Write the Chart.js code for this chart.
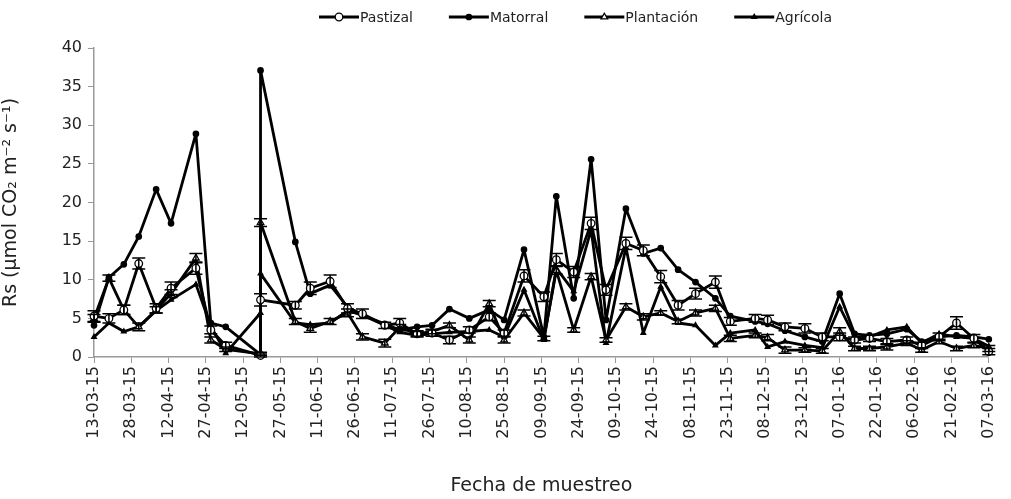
<!DOCTYPE html>
<html>
<head>
<meta charset="utf-8">
<script src="https://cdn.jsdelivr.net/npm/chart.js@4/dist/chart.umd.min.js"></script>
<style>
  body { margin: 0; background: #fff; }
  #caja { width: 1011px; height: 499px; position: relative; }
</style>
</head>
<body>
<div id="caja"><canvas id="miGrafica"></canvas></div>
<script>
// fechas de muestreo (dd-mm-aa); el 19-05 tiene dos mediciones
const fechas = ["13-03-15","19-03-15","25-03-15","31-03-15","07-04-15","13-04-15","23-04-15","29-04-15","05-05-15","19-05-15",
  "19-05-15","02-06-15","08-06-15","16-06-15","23-06-15","29-06-15","08-07-15","14-07-15","21-07-15","27-07-15",
  "03-08-15","11-08-15","19-08-15","25-08-15","02-09-15","10-09-15","15-09-15","22-09-15","29-09-15","05-10-15",
  "13-10-15","20-10-15","27-10-15","03-11-15","10-11-15","18-11-15","24-11-15","04-12-15","09-12-15","16-12-15",
  "24-12-15","31-12-15","07-01-16","13-01-16","19-01-16","26-01-16","03-02-16","09-02-16","16-02-16","23-02-16",
  "01-03-16","07-03-16"]

const pastizal = [5.3,5.0,6.1,12.1,6.3,8.9,11.5,3.5,1.5,0.2, 7.4,6.7,8.9,9.8,6.3,5.6,4.1,4.4,3.0,3.1,
  2.2,3.5,5.2,3.1,10.5,7.8,12.6,11.0,17.3,8.7, 14.7,13.8,10.4,6.7,8.2,9.7,4.6,5.0,4.8,3.9,
  3.7,2.6,2.6,2.2,2.4,2.0,2.2,1.5,2.6,4.4, 2.4,0.7]
const pastizalErr = [0.7,0.6,0.6,0.7,0.6,0.8,0.8,0.5,0.4,0.2, 0.8,0.5,0.8,0.8,0.6,0.6,0.4,0.6,0.4,0.4,
  0.5,0.4,0.5,0.4,0.8,0.6,0.8,0.7,0.8,0.7, 0.8,0.7,0.8,0.6,0.7,0.8,0.5,0.5,0.6,0.5,
  0.6,0.5,0.5,0.4,0.4,0.4,0.4,0.4,0.5,0.8, 0.5,0.4]

const matorral = [4.1,10.3,12.0,15.6,21.7,17.3,28.9,4.4,3.9,0.3, 37.1,14.9,8.2,9.3,6.5,5.4,4.3,3.5,3.9,4.1,
  6.2,5.0,6.1,4.8,13.9,2.6,20.8,7.6,25.6,4.8, 19.2,13.4,14.1,11.3,9.7,7.6,5.3,4.6,4.3,3.4,
  2.6,2.0,8.2,3.0,2.8,3.0,3.6,2.0,2.6,2.8, 2.6,2.3]

const plantacion = [5.0,10.2,6.1,3.9,6.1,8.2,12.8,2.2,1.0,0.4, 17.4,4.6,3.7,4.6,5.7,2.6,1.8,3.8,3.0,3.3,
  4.1,2.2,6.9,2.2,5.7,2.4,11.2,3.5,10.4,2.2, 6.5,5.2,5.7,4.6,5.7,6.3,2.4,2.8,2.5,0.9,
  0.9,0.8,3.3,1.1,1.1,1.3,1.8,0.9,2.0,1.1, 1.5,1.1]
const plantacionErr = [0.5,0.4,0.6,0.5,0.4,0.5,0.6,0.4,0.3,0.2, 0.5,0.4,0.5,0.4,0.5,0.4,0.5,0.4,0.3,0.3,
  0.3,0.4,0.4,0.4,0.4,0.3,0.5,0.3,0.4,0.3, 0.4,0.4,0.3,0.3,0.4,0.4,0.4,0.3,0.4,0.4,
  0.3,0.3,0.5,0.3,0.3,0.4,0.3,0.3,0.3,0.3, 0.3,0.4]

const agricola = [2.6,4.4,3.3,3.9,6.0,7.4,9.4,4.0,0.5,5.7, 10.8,4.4,4.2,4.4,6.0,5.4,4.1,3.2,2.8,3.0,
  3.2,3.3,3.5,2.6,8.7,2.2,11.5,8.5,16.5,1.8, 14.2,3.1,9.1,4.4,4.1,1.5,3.1,3.5,1.3,2.0,
  1.5,1.2,6.5,2.6,2.6,3.5,3.9,1.8,3.0,2.6, 2.4,1.4]

const inicio = Date.UTC(2015, 2, 13)

function dias(f) {
  const p = f.split("-").map(Number)
  return (Date.UTC(2000 + p[2], p[1] - 1, p[0]) - inicio) / 86400000
}

function fechaTexto(d) {
  const t = new Date(inicio + d * 86400000)
  const dd = String(t.getUTCDate()).padStart(2, "0")
  const mm = String(t.getUTCMonth() + 1).padStart(2, "0")
  const aa = String(t.getUTCFullYear()).substr(2, 2)
  return dd + "-" + mm + "-" + aa
}

function puntos(vals) {
  return vals.map((v, i) => ({ x: dias(fechas[i]), y: v }))
}

function serie(nombre, vals, estilo, relleno, radio, err) {
  return {
    label: nombre,
    data: puntos(vals),
    errores: err,
    borderColor: "#000",
    borderWidth: 2.8,
    borderJoinStyle: "round",
    pointStyle: estilo,
    pointRadius: radio,
    pointBorderWidth: 1.3,
    pointBackgroundColor: relleno,
    pointBorderColor: "#000",
    tension: 0,
    clip: false
  }
}

// barras de error
const barras = {
  id: "barras",
  afterDatasetsDraw(chart) {
    const ctx = chart.ctx
    const ys = chart.scales.y
    chart.data.datasets.forEach((ds, i) => {
      if (!ds.errores) return
      const meta = chart.getDatasetMeta(i)
      ctx.save()
      ctx.strokeStyle = "#000"
      ctx.lineWidth = 1.5
      meta.data.forEach((p, j) => {
        const v = ds.data[j].y, e = ds.errores[j]
        const y1 = ys.getPixelForValue(v + e)
        const y2 = ys.getPixelForValue(Math.max(v - e, 0))
        ctx.beginPath()
        ctx.moveTo(p.x, y1); ctx.lineTo(p.x, y2)
        ctx.moveTo(p.x - 6.5, y1); ctx.lineTo(p.x + 6.5, y1)
        ctx.moveTo(p.x - 6.5, y2); ctx.lineTo(p.x + 6.5, y2)
        ctx.stroke()
      })
      ctx.restore()
    })
  }
}

// leyenda con linea y marcador
const leyenda = {
  id: "leyenda",
  afterDraw(chart) {
    const ctx = chart.ctx
    let x = 319
    const y = 17
    ctx.save()
    ctx.font = "14px 'DejaVu Sans'"
    ctx.textBaseline = "middle"
    chart.data.datasets.forEach(ds => {
      ctx.strokeStyle = "#000"
      ctx.lineWidth = 2.8
      ctx.beginPath(); ctx.moveTo(x, y); ctx.lineTo(x + 40, y); ctx.stroke()
      ctx.fillStyle = ds.pointBackgroundColor
      ctx.lineWidth = 1.3
      Chart.helpers.drawPoint(ctx, { pointStyle: ds.pointStyle, radius: ds.pointRadius, borderWidth: 1.3, rotation: 0 }, x + 20, y)
      ctx.fillStyle = "#222"
      ctx.fillText(ds.label, x + 41, y + 1)
      x += 41 + ctx.measureText(ds.label).width + 36
    })
    ctx.restore()
  }
}

let miCanvas = document.getElementById("miGrafica").getContext("2d")

let chart = new Chart(miCanvas, {
  type: "line",
  data: {
    datasets: [
      serie("Pastizal", pastizal, "circle", "#fff", 3.8, pastizalErr),
      serie("Matorral", matorral, "circle", "#000", 2.7, null),
      serie("Plantación", plantacion, "triangle", "#fff", 3.8, plantacionErr),
      serie("Agrícola", agricola, "triangle", "#000", 2.7, null)
    ]
  },
  options: {
    responsive: true,
    maintainAspectRatio: false,
    animation: false,
    layout: { padding: { top: 48, right: 11, left: 0, bottom: 2 } },
    plugins: { legend: { display: false }, tooltip: { enabled: false } },
    scales: {
      x: {
        type: "linear",
        min: 0,
        max: 360,
        afterFit: s => { s.height = 140 },
        ticks: {
          stepSize: 15,
          autoSkip: false,
          maxRotation: 90,
          minRotation: 90,
          color: "#222",
          font: { family: "'DejaVu Sans'", size: 16 },
          callback: v => fechaTexto(v)
        },
        grid: { display: true, drawOnChartArea: false, tickLength: 6, color: "#999" },
        border: { color: "#999", width: 1.5 },
        title: {
          display: true,
          text: "Fecha de muestreo",
          color: "#222",
          font: { family: "'DejaVu Sans'", size: 19 },
          padding: { top: 4, bottom: 0 }
        }
      },
      y: {
        min: 0,
        max: 40,
        afterFit: s => { s.width = 94 },
        ticks: {
          stepSize: 5,
          color: "#222",
          padding: 6,
          font: { family: "'DejaVu Sans'", size: 16 }
        },
        grid: { display: true, drawOnChartArea: false, tickLength: 6, color: "#999" },
        border: { color: "#999", width: 1.5 },
        title: {
          display: true,
          text: "Rs (μmol CO₂ m⁻² s⁻¹)",
          color: "#222",
          font: { family: "'DejaVu Sans'", size: 19 },
          padding: { top: 0, bottom: 2 }
        }
      }
    }
  },
  plugins: [barras, leyenda]
})
</script>
</body>
</html>
